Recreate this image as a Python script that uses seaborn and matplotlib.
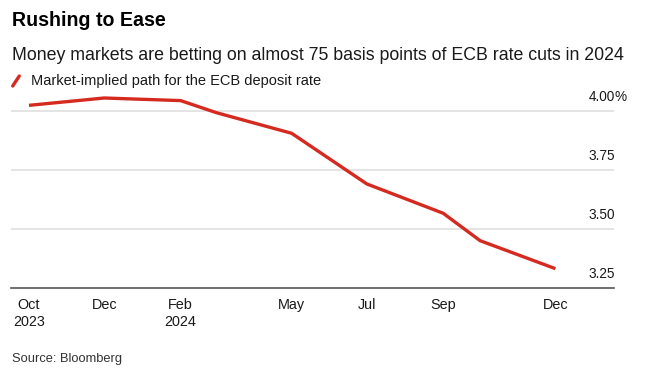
import matplotlib
matplotlib.use('Agg')
import matplotlib.pyplot as plt
import matplotlib.dates as mdates
import matplotlib.transforms as mtransforms
from matplotlib.lines import Line2D
import seaborn as sns
import pandas as pd

# 시장이 예상하는 ECB 예치금리 경로
dates = ['2023-10-01', '2023-12-01', '2024-02-01', '2024-03-01', '2024-05-01',
         '2024-07-01', '2024-09-01', '2024-10-01', '2024-12-01']
rate = [4.023, 4.054, 4.043, 3.992, 3.905, 3.691, 3.567, 3.451, 3.333]

tick_dates = ['2023-10-01', '2023-12-01', '2024-02-01', '2024-05-01',
              '2024-07-01', '2024-09-01', '2024-12-01']
tick_labels = ['Oct\n2023', 'Dec', 'Feb\n2024', 'May', 'Jul', 'Sep', 'Dec']
y_levels = [3.25, 3.50, 3.75, 4.00]
y_labels = ['3.25', '3.50', '3.75', '4.00']

title = 'Rushing to Ease'
subtitle = 'Money markets are betting on almost 75 basis points of ECB rate cuts in 2024'
legend_text = 'Market-implied path for the ECB deposit rate'
source = 'Source: Bloomberg'

red = '#d42a20'

sns.set_style('white')
plt.rcParams['font.family'] = ['Liberation Sans', 'DejaVu Sans']

df = pd.DataFrame({'date': pd.to_datetime(dates), 'rate': rate})

W, H = 666, 372
fig = plt.figure(figsize=(W / 100, H / 100), dpi=100)
# 축 위치 (픽셀 기준)
left, right, bottom, top = 11, 614.3, 288.3, 90
ax = fig.add_axes([left / W, 1 - bottom / H, (right - left) / W, (bottom - top) / H])

sns.lineplot(data=df, x='date', y='rate', ax=ax, color=red, lw=2.4,
             solid_capstyle='butt', zorder=3)

x0 = mdates.date2num(pd.Timestamp('2023-10-01'))
ax.set_xlim(x0 - 14.6, x0 + 474.8)
ax.set_ylim(3.25, 4.0878)

# 격자선
for v in y_levels[1:]:
    ax.axhline(v, color='#e2e2e2', lw=1.3, zorder=1)

for s in ['top', 'right', 'left']:
    ax.spines[s].set_visible(False)
ax.spines['bottom'].set_color('#555555')
ax.spines['bottom'].set_linewidth(1.2)

ax.set_xticks(pd.to_datetime(tick_dates))
ax.set_xticklabels(tick_labels, fontsize=10.4, color='#1a1a1a', linespacing=1.2)
ax.tick_params(axis='x', direction='out', length=4.3, width=1, color='#555555', pad=3)
ax.set_yticks([])
ax.set_xlabel('')
ax.set_ylabel('')

# 오른쪽 y 라벨 (격자선 위)
off = mtransforms.offset_copy(ax.get_yaxis_transform(), fig=fig, x=0.5, y=13.8 * 0.72, units='points')
for v, lab in zip(y_levels, y_labels):
    ax.text(1.0, v, lab, transform=off, ha='right', va='center', fontsize=9.8, color='#1a1a1a')
ax.text(1.0, 4.00, '%', transform=off, ha='left', va='center', fontsize=9.8, color='#1a1a1a')

# 제목, 부제, 범례, 출처
fig.text(12 / W, 1 - 20 / H, title, fontsize=14.1, fontweight='bold', color='black', va='center')
fig.text(12 / W, 1 - 55.5 / H, subtitle, fontsize=12.75, color='#1a1a1a', va='center')
fig.add_artist(Line2D([12.7 / W, 19.3 / W], [1 - 86 / H, 1 - 76 / H], color=red, lw=2.4))
fig.text(31 / W, 1 - 80.5 / H, legend_text, fontsize=10.5, color='#1a1a1a', va='center')
fig.text(12 / W, 1 - 359 / H, source, fontsize=9.3, color='#333333', va='center')

fig.savefig('out.png', dpi=100)
